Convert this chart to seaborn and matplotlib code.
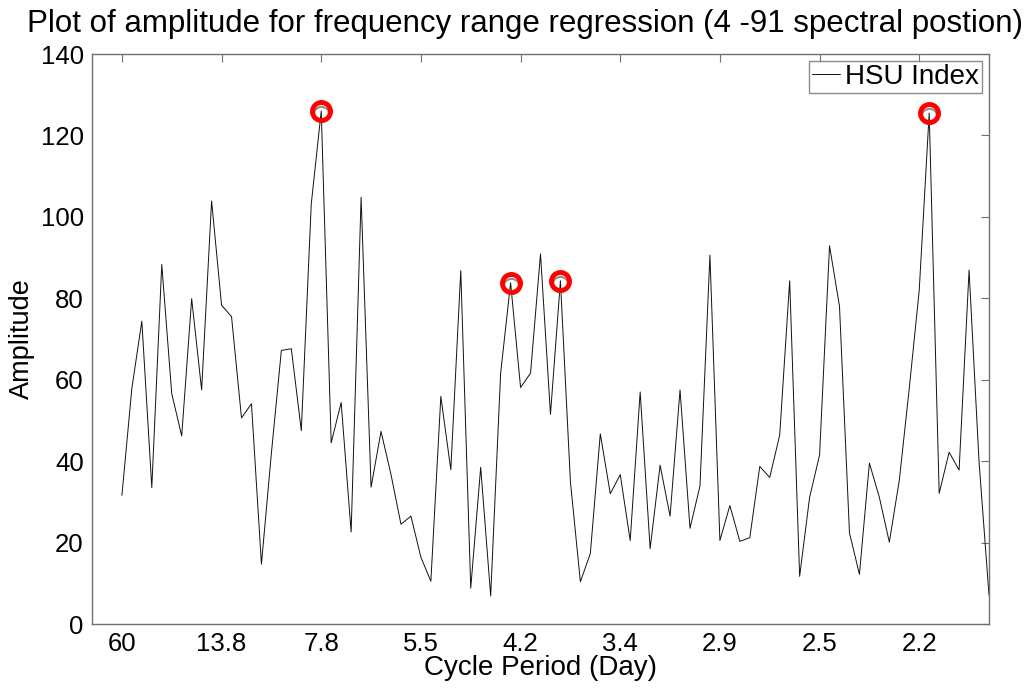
import numpy as np
import pandas as pd
import matplotlib
matplotlib.use("Agg")
import matplotlib.pyplot as plt
import seaborn as sns

# spectral positions 4..91
positions = list(range(4, 92))
amplitude = [31.6, 57.9, 74.4, 33.5, 88.3, 56.6, 46.2, 79.9, 57.5, 103.9,
             78.3, 75.5, 50.6, 54.1, 14.7, 42.0, 67.2, 67.6, 47.5, 103.2,
             126.0, 44.5, 54.4, 22.6, 104.8, 33.6, 47.3, 36.7, 24.5, 26.5,
             16.4, 10.5, 55.9, 37.9, 86.8, 8.8, 38.5, 6.9, 61.6, 83.8,
             58.1, 61.6, 90.9, 51.5, 84.3, 35.0, 10.4, 17.3, 46.7, 32.0,
             36.7, 20.5, 57.0, 18.5, 39.0, 26.5, 57.5, 23.5, 33.9, 90.6,
             20.5, 29.1, 20.3, 21.2, 38.7, 36.0, 46.4, 84.3, 11.7, 31.1,
             41.5, 92.9, 78.0, 22.4, 12.2, 39.5, 31.1, 20.1, 35.3, 57.9,
             82.0, 125.5, 32.1, 42.2, 37.8, 86.9, 39.9, 7.1]
peak_positions = [24, 43, 48, 85]
tick_positions = [4, 14, 24, 34, 44, 54, 64, 74, 84]
tick_labels = ["60", "13.8", "7.8", "5.5", "4.2", "3.4", "2.9", "2.5", "2.2"]

df = pd.DataFrame({"pos": positions, "amp": amplitude})
peaks = df[df["pos"].isin(peak_positions)]

sns.set_theme(style="white")
plt.rcParams["font.family"] = ["Liberation Sans", "DejaVu Sans"]
plt.rcParams["text.color"] = "black"
plt.rcParams["axes.labelcolor"] = "black"

fig = plt.figure(figsize=(10.24, 6.97), dpi=100)
ax = fig.add_axes([92 / 1024, 1 - 624 / 697, (989 - 92) / 1024, (624 - 54) / 697])

sns.lineplot(data=df, x="pos", y="amp", ax=ax, color="#111111", linewidth=0.7,
             label="HSU Index")
# grey marker cluster under the peak circles
ax.plot(peaks["pos"], peaks["amp"] - 0.8, linestyle="none", marker="o",
        markersize=11, markerfacecolor="none", markeredgecolor="#909090",
        markeredgewidth=1.5, zorder=3)
ax.plot(peaks["pos"], peaks["amp"], linestyle="none", marker="o",
        markersize=13, markerfacecolor="none", markeredgecolor="#ff0000",
        markeredgewidth=3.5, zorder=4)

ax.set_xlim(1, 91)
ax.set_ylim(0, 140)
ax.set_xticks(tick_positions)
ax.set_xticklabels(tick_labels)
ax.set_yticks(np.arange(0, 141, 20))

for s in ax.spines.values():
    s.set_color("#707070")
    s.set_linewidth(1.0)
ax.tick_params(axis="both", direction="in", length=6, width=0.8, color="#707070",
               top=True, right=True, labelsize=18.5, labelcolor="black", pad=6)

ax.set_title("Plot of amplitude for frequency range regression (4 -91 spectral postion)",
             fontsize=22.5, pad=16, color="black", x=0.483)
ax.set_xlabel("Cycle Period (Day)", fontsize=20, labelpad=-1)
ax.set_ylabel("Amplitude", fontsize=19.5, labelpad=4)

leg = ax.legend(loc="upper right", fontsize=20, frameon=True, fancybox=False,
                handlelength=1.0, handletextpad=0.2, borderpad=0.1,
                borderaxespad=0.25)
leg.get_frame().set_edgecolor("#707070")
leg.get_frame().set_linewidth(1.0)

fig.savefig("out.png", dpi=100)
